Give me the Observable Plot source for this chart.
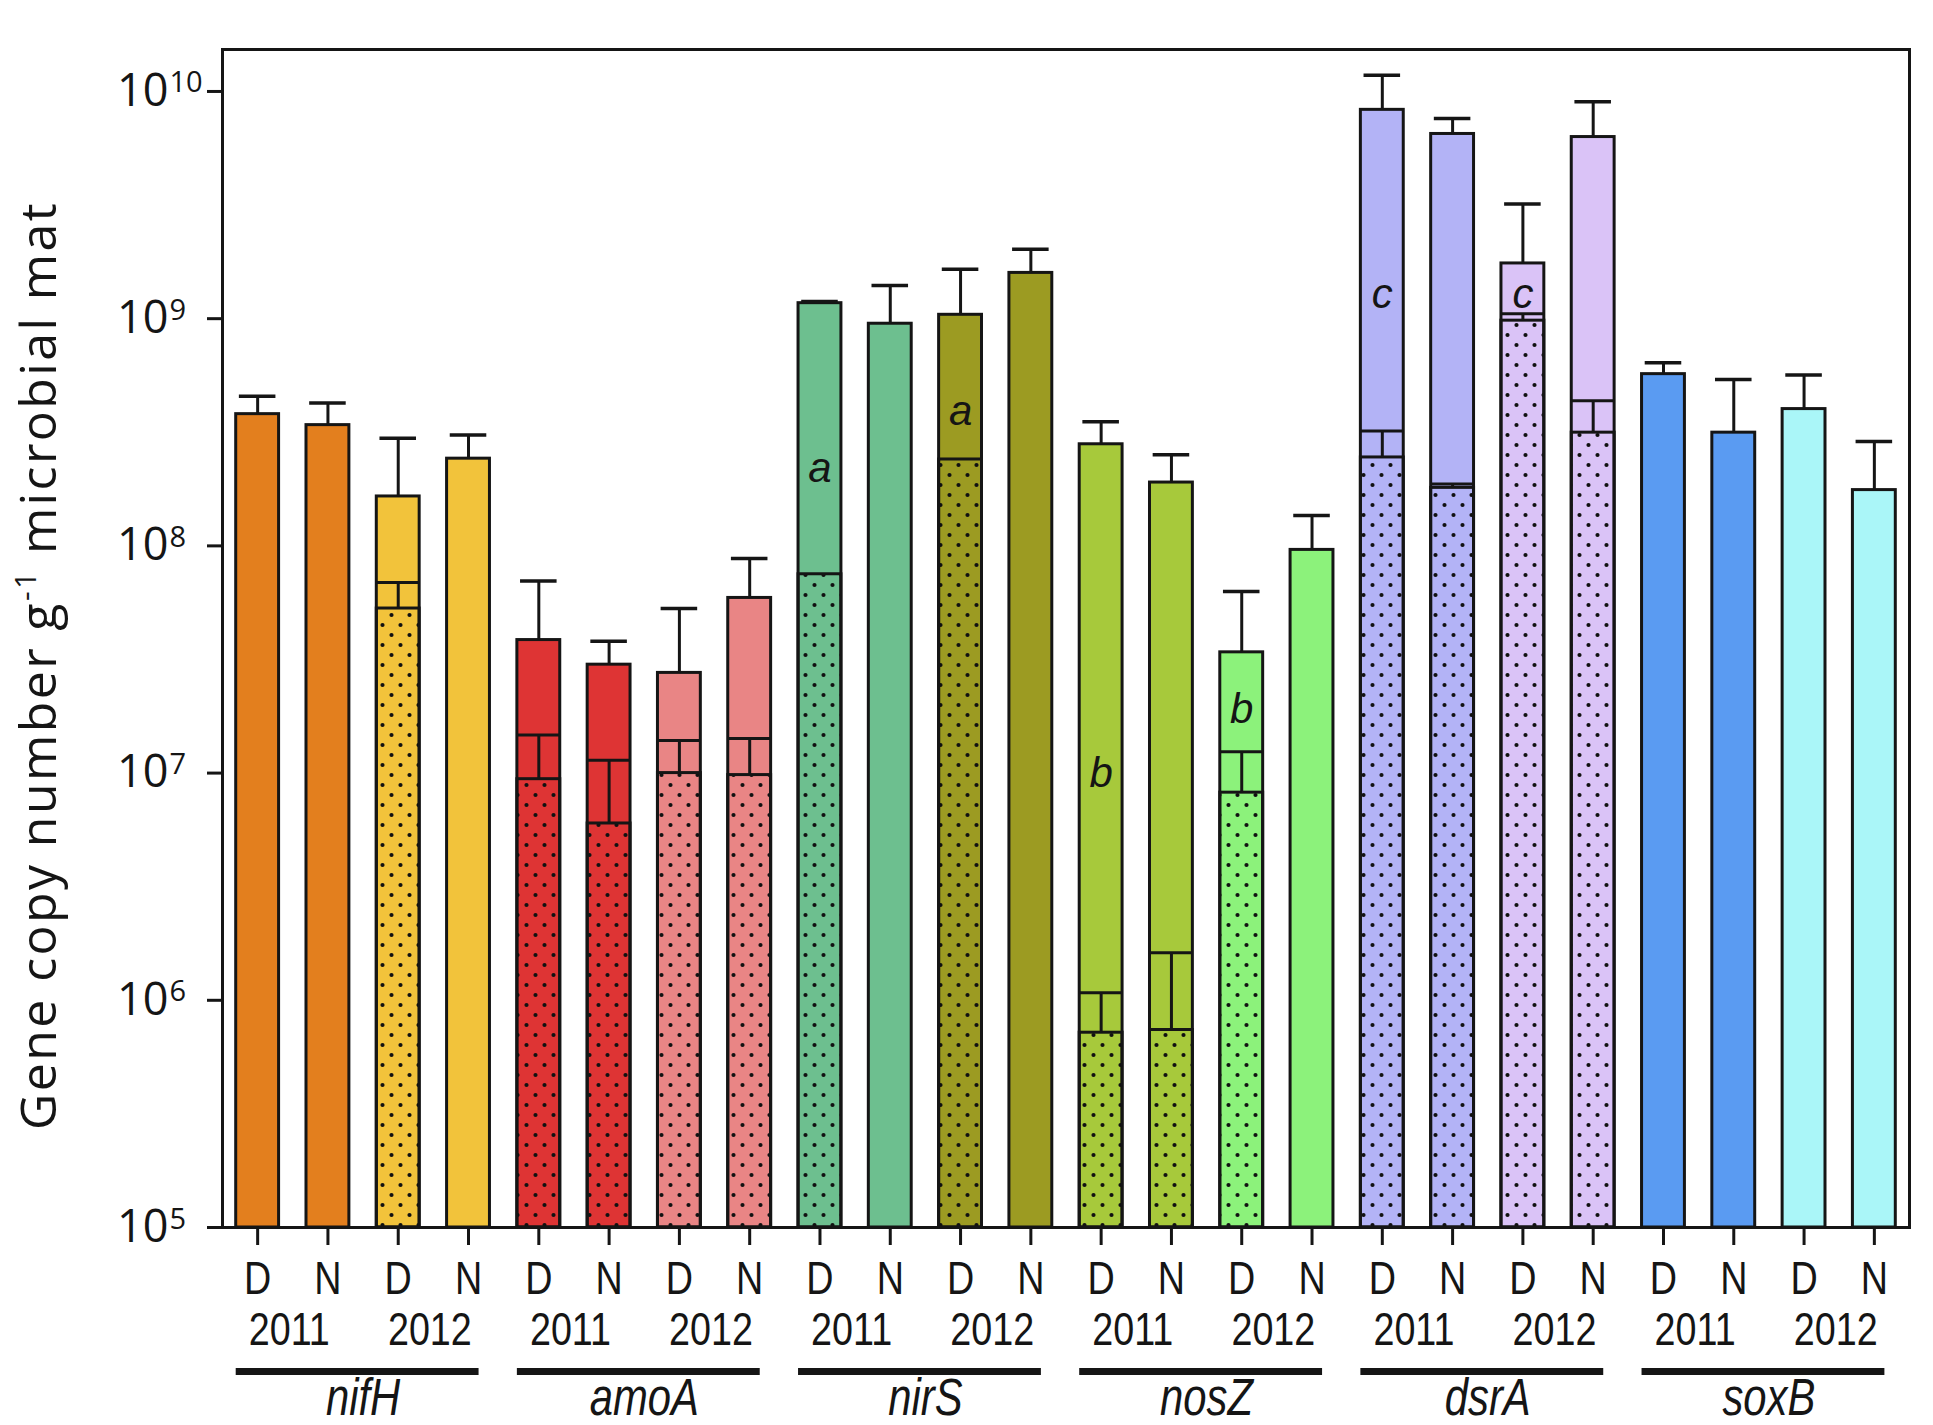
<!DOCTYPE html>
<html><head><meta charset="utf-8">
<script src="https://cdn.jsdelivr.net/npm/d3@7"></script>
<script src="https://cdn.jsdelivr.net/npm/@observablehq/plot@0.6"></script>
<style>body{margin:0;background:#fff} #chart svg{display:block;background:#fff}</style>
</head><body><div id="chart"></div>
<script>
// ---- data ----
const genes = ["nifH","amoA","nirS","nosZ","dsrA","soxB"];
const years = ["2011","2012"];
const times = ["D","N"];
const groupColors = [
  ["#e37f1e","#f2c33b"],
  ["#de3434","#e98585"],
  ["#6dbf8f","#9c9b22"],
  ["#a7c93b","#8cf27b"],
  ["#b3b3f6","#dac3f7"],
  ["#5a9bf2","#aaf6f8"]
];
// order per gene: D2011, N2011, D2012, N2012
const totals   = [3.8e8,3.4e8,1.65e8,2.42e8, 3.85e7,3.0e7,2.76e7,5.9e7, 1.17e9,9.5e8,1.04e9,1.59e9, 2.8e8,1.9e8,3.4e7,9.6e7, 8.3e9,6.5e9,1.75e9,6.3e9, 5.7e8,3.15e8,4.0e8,1.76e8];
const totalErr = [4.55e8,4.25e8,2.98e8,3.08e8, 7.0e7,3.8e7,5.3e7,8.8e7, 1.19e9,1.4e9,1.65e9,2.02e9, 3.52e8,2.52e8,6.3e7,1.36e8, 1.18e10,7.6e9,3.2e9,9.0e9, 6.4e8,5.4e8,5.65e8,2.88e8];
const dotted   = [null,null,5.3e7,null, 9.4e6,6.0e6,1.0e7,9.8e6, 7.5e7,null,2.4e8,null, 7.2e5,7.4e5,8.2e6,null, 2.45e8,1.8e8,9.8e8,3.15e8, null,null,null,null];
const dottedErr= [null,null,6.9e7,null, 1.47e7,1.14e7,1.39e7,1.42e7, null,null,null,null, 1.08e6,1.62e6,1.24e7,null, 3.2e8,1.87e8,1.05e9,4.35e8, null,null,null,null];
const letterBars = [8,10,12,14,16,18];
const letterText = ["a","a","b","b","c","c"];
const letterY    = [2.2e8,3.9e8,1.0e7,1.9e7,1.28e9,1.28e9];
const decades = [1e5,1e6,1e7,1e8,1e9,1e10];
const yLabel = "Gene copy number g-1 microbial mat";

// ---- derived table ----
const bars = totals.map((t,i)=>({
  i, gene: genes[Math.floor(i/4)], year: years[Math.floor((i%4)/2)], time: times[i%2],
  total: t, err: totalErr[i], dot: dotted[i], dotErr: dottedErr[i],
  color: groupColors[Math.floor(i/4)][Math.floor((i%4)/2)]
}));
const dotBars = bars.filter(d => d.dot != null);
const segErrBars = bars.filter(d => d.dotErr != null);
const letters = letterBars.map((b,k)=>({i:b, t:letterText[k], v:letterY[k]}));
const yearLabels = genes.flatMap((g,gi)=>years.map((y,yi)=>({x: gi*4 + yi*2 + 0.45, t: y})));
const geneRows = genes.map((g,gi)=>({g, gi}));

const hw = 0.305, capHw = 0.26;
const ink = "#151515";
const narrow = "'Liberation Sans', Arial, Helvetica, sans-serif";
const base = 1e5;

const plot = Plot.plot({
  width: 1933, height: 1425,
  marginLeft: 222, marginRight: 24, marginTop: 49, marginBottom: 198,
  x: {domain: [-0.5, 23.5]},
  y: {type: "log", domain: [1e5, 1.53e10]},
  style: {background: "#fff"},
  marks: [
    Plot.rect(bars, {x1: d=>d.i-hw, x2: d=>d.i+hw, y1: base, y2: "total", fill: "color"}),
    Plot.rect(dotBars, {x1: d=>d.i-hw, x2: d=>d.i+hw, y1: base, y2: "dot", fill: "url(#dots)"}),
    Plot.rect(dotBars, {x1: d=>d.i-hw, x2: d=>d.i+hw, y1: base, y2: "dot", fill: "none", stroke: ink, strokeWidth: 3}),
    Plot.ruleX(segErrBars, {x: "i", y1: "dot", y2: "dotErr", stroke: ink, strokeWidth: 3}),
    Plot.ruleY(segErrBars, {x1: d=>d.i-hw, x2: d=>d.i+hw, y: "dotErr", stroke: ink, strokeWidth: 3}),
    Plot.rect(bars, {x1: d=>d.i-hw, x2: d=>d.i+hw, y1: base, y2: "total", fill: "none", stroke: ink, strokeWidth: 3}),
    Plot.ruleX(bars, {x: "i", y1: "total", y2: "err", stroke: ink, strokeWidth: 3}),
    Plot.ruleY(bars, {x1: d=>d.i-capHw, x2: d=>d.i+capHw, y: "err", stroke: ink, strokeWidth: 3.5}),
    Plot.text(letters, {x: "i", y: "v", text: "t", fontSize: 42, fontStyle: "italic", fontFamily: "'Liberation Sans',Arial,sans-serif", fill: ink, lineAnchor: "middle"}),
    // y axis
    Plot.axisY({ticks: decades, tickSize: 15, tickFormat: () => "", stroke: ink, strokeWidth: 3, label: null}),
    Plot.text(decades, {y: d=>d, text: () => "10", frameAnchor: "left", dx: -54, textAnchor: "end", lineAnchor: "middle", fontSize: 45, fontFamily: "'Open Sans',sans-serif", fill: ink}),
    Plot.text(decades, {y: d=>d, text: d => String(Math.round(Math.log10(d))), frameAnchor: "left", dx: -53, dy: 1, textAnchor: "start", lineAnchor: "bottom", fontSize: 29, fontFamily: "'Open Sans',sans-serif", fill: ink}),
    Plot.text([yLabel], {frameAnchor: "left", dx: -167, dy: 27, rotate: -90, text: d=>d, textAnchor: "middle", lineAnchor: "bottom", fontSize: 50, fontFamily: "'Open Sans',sans-serif", fill: ink}),
    // x axis
    Plot.axisX({ticks: d3.range(24), tickSize: 18, tickPadding: 16, tickFormat: i => times[i % 2], stroke: ink, strokeWidth: 3, fontSize: 46, fontFamily: narrow, fill: ink, label: null}),
    Plot.text(yearLabels, {x: "x", y: base, dy: 117, text: "t", lineAnchor: "bottom", fontSize: 46, fontFamily: narrow, fill: ink}),
    Plot.ruleY(geneRows, {x1: d=>d.gi*4-hw, x2: d=>d.gi*4+3.15, y: base, dy: 144, stroke: ink, strokeWidth: 7}),
    Plot.text(geneRows, {x: d=>d.gi*4+1.5, y: base, dy: 187, text: "g", lineAnchor: "bottom", fontSize: 51, fontStyle: "italic", fontFamily: narrow, fill: ink}),
    Plot.frame({stroke: ink, strokeWidth: 3})
  ]
});

// dot pattern definition
const svg = d3.select(plot);
const defs = svg.insert("defs", ":first-child");
const pat = defs.append("pattern").attr("id","dots").attr("patternUnits","userSpaceOnUse").attr("width",18).attr("height",20);
pat.append("circle").attr("cx",4.5).attr("cy",5).attr("r",2.1).attr("fill","#111");
pat.append("circle").attr("cx",13.5).attr("cy",15).attr("r",2.1).attr("fill","#111");

// narrow the condensed-style labels (Arial Narrow look)
svg.selectAll("g").filter(function(){ return this.getAttribute("font-family") === narrow; })
  .selectAll("text").each(function(){
    const el = this;
    let tr = el.getAttribute("transform");
    if (!tr) {
      const x = +(el.getAttribute("x") || 0), y = +(el.getAttribute("y") || 0);
      el.removeAttribute("x"); el.removeAttribute("y");
      tr = `translate(${x},${y})`;
    }
    el.setAttribute("transform", tr + " scale(0.82,1)");
  });

// superscript in y label
svg.selectAll("text").filter(function(){ return this.textContent === yLabel; }).each(function(){
  const t = d3.select(this);
  t.text(null).attr("letter-spacing", 2.4);
  t.append("tspan").text("Gene copy number g");
  t.append("tspan").attr("dy", -20).attr("font-size", 30).text("-1");
  t.append("tspan").attr("dy", 20).text(" microbial mat");
});

document.getElementById("chart").appendChild(plot);
</script>
</body></html>
